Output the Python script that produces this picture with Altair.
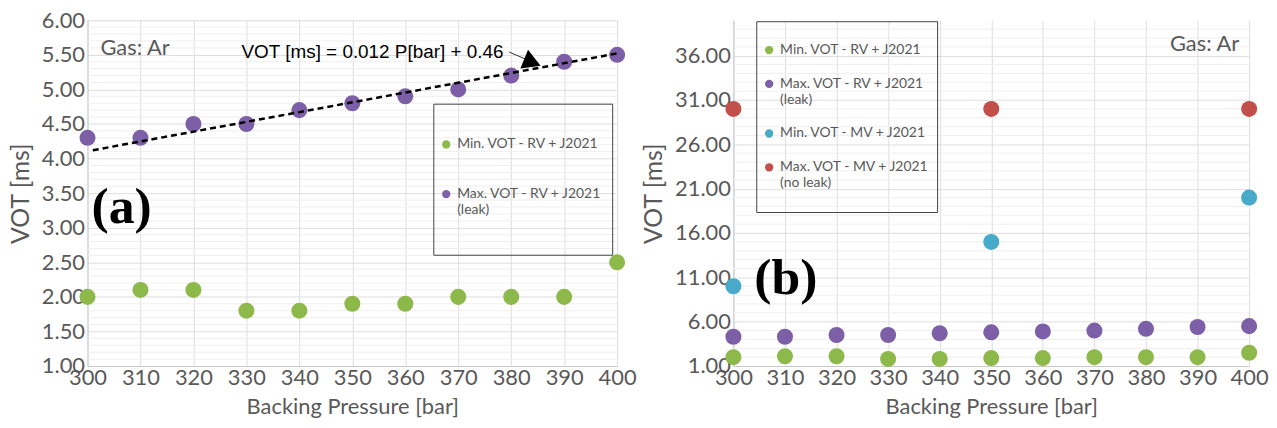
import altair as alt
import pandas as pd
import numpy as np

# ---- data ----
pressure = [300, 310, 320, 330, 340, 350, 360, 370, 380, 390, 400]
min_rv = [2.0, 2.1, 2.1, 1.8, 1.8, 1.9, 1.9, 2.0, 2.0, 2.0, 2.5]
max_rv = [4.3, 4.3, 4.5, 4.5, 4.7, 4.8, 4.9, 5.0, 5.2, 5.4, 5.5]
mv_pressure = [300, 350, 400]
min_mv = [10.0, 15.0, 20.0]
max_mv = [30.0, 30.0, 30.0]
fit_x = [301, 400]
fit_y = [4.12, 5.52]

# '|' separates label lines in the legend
left_series = ["Min. VOT - RV + J2021", "Max. VOT - RV +  J2021|(leak)| | "]
right_series = ["Min. VOT - RV + J2021", "Max. VOT - RV + J2021|(leak)",
                "Min. VOT -  MV + J2021", "Max. VOT - MV + J2021|(no leak)| "]
colors = ["#8db84a", "#7c5fa6", "#46aac8", "#c24f4a"]

left_ticks = [1.0, 1.5, 2.0, 2.5, 3.0, 3.5, 4.0, 4.5, 5.0, 5.5, 6.0]
right_ticks = [1, 6, 11, 16, 21, 26, 31, 36]

GREY = "#595959"
W_L, W_R, H = 533, 519, 348

def long(xs, ys, name):
    return pd.DataFrame({"P": xs, "VOT": ys, "series": name})

df_left = pd.concat([long(pressure, min_rv, left_series[0]),
                     long(pressure, max_rv, left_series[1])])
df_right = pd.concat([long(pressure, min_rv, right_series[0]),
                      long(pressure, max_rv, right_series[1]),
                      long(mv_pressure, min_mv, right_series[2]),
                      long(mv_pressure, max_mv, right_series[3])])

XSCALE = alt.Scale(domain=[300, 400], nice=False, zero=False)
XAXIS = alt.Axis(values=pressure, format="d", title="Backing Pressure [bar]",
                 grid=True, ticks=False, labelPadding=2, titlePadding=8,
                 labelOverlap=False, labelFlush=False, labelBound=False,
                 titleFontSize=22)

def yaxis(vals):
    return alt.Axis(values=vals, tickCount=len(vals), format=".2f", title="VOT [ms]", ticks=False,
                    labelPadding=3, titlePadding=8, labelOverlap=False,
                    labelFlush=False, labelBound=False, titleFontSize=25)

def legend(x, y, pad, rowpad, tsize, tpad):
    return alt.Legend(title=" ", titleFontSize=tsize, titlePadding=tpad,
                      orient="none", legendX=x, legendY=y,
                      strokeColor="#444", padding=pad, rowPadding=rowpad,
                      symbolType="circle", symbolSize=70, symbolStrokeWidth=0,
                      labelFont="Lato", labelFontSize=14, labelColor=GREY,
                      labelLimit=400, labelExpr="split(datum.label, '|')")

# ---------- left panel ----------
YSCALE_L = alt.Scale(domain=[1, 6], nice=False, zero=False)
minor_l = pd.DataFrame({"v": [round(v, 2) for v in np.arange(1.1, 6.0, 0.1)
                              if abs(v * 2 - round(v * 2)) > 1e-6]})
minor_rule_l = alt.Chart(minor_l).mark_rule(color="#efefef", strokeWidth=1).encode(
    y=alt.Y("v:Q", scale=YSCALE_L, axis=yaxis(left_ticks)))

pts_l = alt.Chart(df_left).mark_circle(size=260, opacity=1).encode(
    x=alt.X("P:Q", scale=XSCALE, axis=XAXIS),
    y=alt.Y("VOT:Q", scale=YSCALE_L, axis=yaxis(left_ticks)),
    color=alt.Color("series:N", scale=alt.Scale(domain=left_series, range=colors[:2]),
                    legend=legend(348, 84, 6, 36, 10, 18)),
)

fit = alt.Chart(pd.DataFrame({"P": fit_x, "VOT": fit_y})).mark_line(
    color="black", strokeDash=[6, 4], strokeWidth=2.5).encode(x="P:Q", y="VOT:Q")

eq_text = alt.Chart(pd.DataFrame({"t": ["VOT [ms] = 0.012 P[bar] + 0.46"]})).mark_text(
    font="Liberation Sans", fontSize=19, color="black", align="left", baseline="middle").encode(
    x=alt.value(155), y=alt.value(32), text="t:N")

arrow_line = alt.Chart(pd.DataFrame({"P": [379.6], "VOT": [5.54], "P2": [384.5], "VOT2": [5.38]})).mark_rule(
    color="#333", strokeWidth=1).encode(x="P:Q", y="VOT:Q", x2="P2:Q", y2="VOT2:Q")
arrow_head = alt.Chart(pd.DataFrame({"P": [384.0], "VOT": [5.39]})).mark_point(
    shape="triangle-up", filled=True, color="black", size=420, angle=112, opacity=1).encode(
    x="P:Q", y="VOT:Q")

gas_l = alt.Chart(pd.DataFrame({"t": ["Gas: Ar"]})).mark_text(
    font="Lato", fontSize=22, color=GREY, align="left", baseline="middle").encode(
    x=alt.value(13), y=alt.value(28), text="t:N")
lab_a = alt.Chart(pd.DataFrame({"t": ["(a)"]})).mark_text(
    font="Liberation Serif", fontSize=52, fontWeight="bold", color="black",
    align="left", baseline="middle").encode(x=alt.value(4), y=alt.value(188), text="t:N")

left = alt.layer(minor_rule_l, pts_l, fit, arrow_line, arrow_head, eq_text, gas_l, lab_a).properties(
    width=W_L, height=H)

# ---------- right panel ----------
YSCALE_R = alt.Scale(domain=[1, 40], nice=False, zero=False)
minor_r = pd.DataFrame({"v": [v for v in range(2, 40) if (v - 1) % 5 != 0]})
minor_rule_r = alt.Chart(minor_r).mark_rule(color="#efefef", strokeWidth=1).encode(
    y=alt.Y("v:Q", scale=YSCALE_R, axis=yaxis(right_ticks)))

pts_r = alt.Chart(df_right).mark_circle(size=260, opacity=1).encode(
    x=alt.X("P:Q", scale=XSCALE, axis=XAXIS),
    y=alt.Y("VOT:Q", scale=YSCALE_R, axis=yaxis(right_ticks)),
    color=alt.Color("series:N", scale=alt.Scale(domain=right_series, range=colors),
                    legend=legend(23, 1, 6, 20, 10, 6)),
)

gas_r = alt.Chart(pd.DataFrame({"t": ["Gas: Ar"]})).mark_text(
    font="Lato", fontSize=22, color=GREY, align="right", baseline="middle").encode(
    x=alt.value(509), y=alt.value(24), text="t:N")
lab_b = alt.Chart(pd.DataFrame({"t": ["(b)"]})).mark_text(
    font="Liberation Serif", fontSize=52, fontWeight="bold", color="black",
    align="left", baseline="middle").encode(x=alt.value(21), y=alt.value(260), text="t:N")

right = alt.layer(minor_rule_r, pts_r, gas_r, lab_b).properties(width=W_R, height=H)

chart = alt.hconcat(left, right, spacing=4).resolve_scale(
    color="independent", y="independent").resolve_legend(color="independent").properties(
    padding=0).configure_view(stroke=None).configure_axis(
    labelFont="Lato", labelFontSize=22, labelColor=GREY, labelOverlap=False,
    titleFont="Lato", titleColor=GREY, titleFontWeight="normal",
    domainColor="#c8c8c8", gridColor="#dedede")

chart.save("out.html", embed_options={"renderer": "svg", "actions": False})
